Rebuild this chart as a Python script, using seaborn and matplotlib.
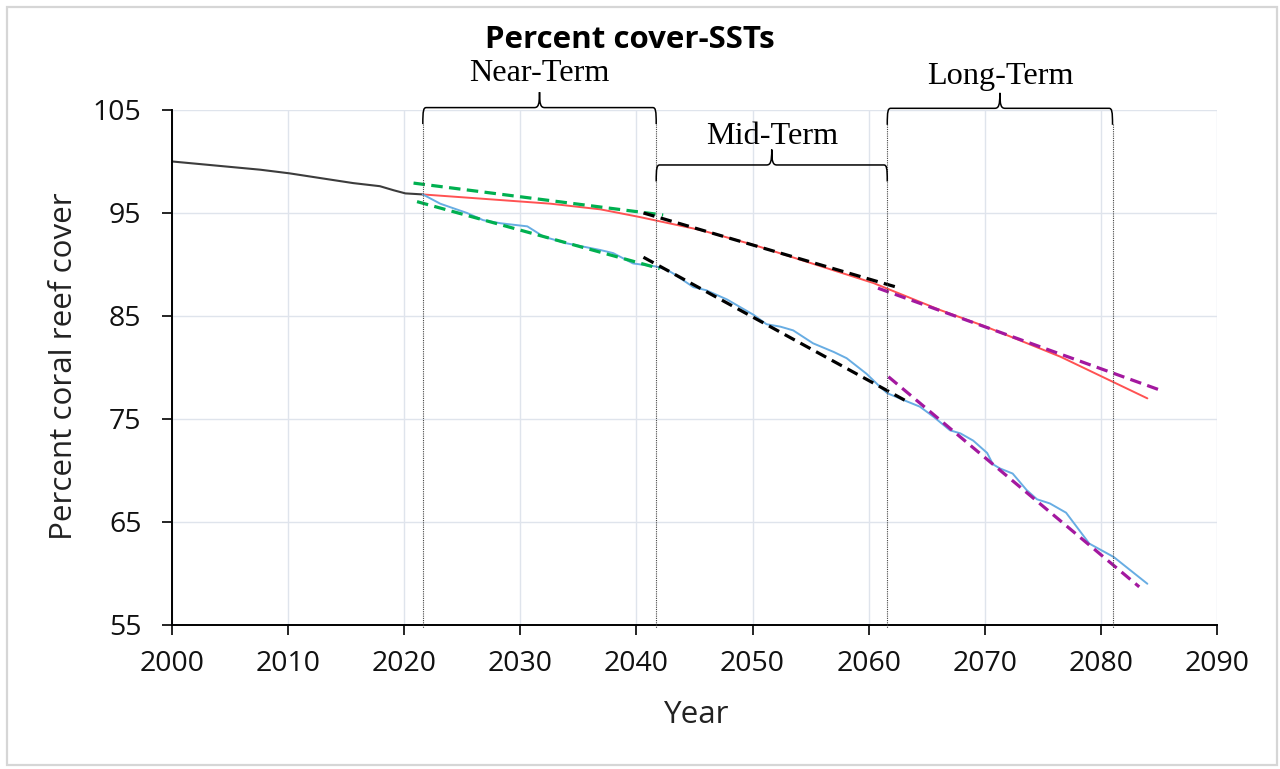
import matplotlib
matplotlib.use("Agg")
import matplotlib.pyplot as plt
from matplotlib.path import Path
from matplotlib.patches import PathPatch, Rectangle
import numpy as np
import pandas as pd
import seaborn as sns

# ---- data -------------------------------------------------------------
hist_years = [2000, 2007.6, 2010.1, 2012.7, 2015.6, 2017.9, 2019.1, 2020.1, 2021.6]
hist_cover = [100.0, 99.2, 98.85, 98.4, 97.9, 97.6, 97.2, 96.9, 96.8]

ssp_low_years = [2021.6, 2026.5, 2032.6, 2036.9, 2040.3, 2045.5, 2050.1,
                 2060.4, 2066.1, 2070.0, 2076.5, 2084.0]
ssp_low_cover = [96.8, 96.4, 95.9, 95.35, 94.6, 93.35, 91.9,
                 88.2, 85.6, 84.0, 81.05, 77.0]

ssp_high_years = [2021.6, 2023.1, 2025.4, 2026.8, 2028.3, 2030.6, 2032.0, 2034.0,
                  2036.9, 2038.0, 2039.7, 2041.7, 2042.6, 2043.2, 2044.9, 2046.0,
                  2047.8, 2050.1, 2051.2, 2052.4, 2053.5, 2055.2, 2057.0, 2058.1,
                  2059.8, 2061.0, 2061.6, 2063.3, 2064.4, 2065.6, 2067.0, 2067.9,
                  2069.0, 2070.2, 2070.7, 2071.3, 2072.4, 2073.6, 2074.5, 2075.6,
                  2077.0, 2079.0, 2081.1, 2084.0]
ssp_high_cover = [96.8, 95.9, 95.0, 94.3, 94.0, 93.7, 92.7, 92.05,
                  91.4, 91.1, 90.1, 89.8, 89.5, 89.1, 87.8, 87.5,
                  86.6, 85.1, 84.2, 83.96, 83.6, 82.35, 81.5, 80.9,
                  79.4, 78.1, 77.5, 76.7, 76.2, 75.2, 73.9, 73.6,
                  72.9, 71.7, 70.6, 70.2, 69.7, 68.1, 67.2, 66.8,
                  65.9, 62.9, 61.6, 59.0]

# linear trends per period: (start year, start cover, end year, end cover)
near_low_trend = [2020.8, 97.9, 2042.3, 94.8]
near_high_trend = [2021.1, 96.1, 2042.0, 89.6]
mid_low_trend = [2040.6, 95.0, 2062.4, 87.8]
mid_high_trend = [2040.6, 90.7, 2063.3, 76.7]
long_low_trend = [2060.8, 87.7, 2085.1, 77.8]
long_high_trend = [2061.7, 79.1, 2083.3, 58.7]

period_names = ["Near-Term", "Mid-Term", "Long-Term"]
period_bounds = [(2021.6, 2041.7), (2041.7, 2061.6), (2061.6, 2081.0)]

x_ticks = list(range(2000, 2091, 10))
y_ticks = list(range(55, 106, 10))

# ---- style ------------------------------------------------------------
sns.set_theme(style="white")
plt.rcParams["font.family"] = ["Open Sans", "DejaVu Sans"]

fig = plt.figure(figsize=(12.8, 7.69), dpi=100)
ax = fig.add_axes([0.1344, 0.1873, 0.8164, 0.6697])

fig.patches.append(Rectangle((0.0055, 0.005), 0.992, 0.986, transform=fig.transFigure,
                             fill=False, ec="#d6d6d6", lw=1.6, zorder=0))

ax.set_xlim(2000, 2090)
ax.set_ylim(55, 105)
ax.set_xticks(x_ticks)
ax.set_yticks(y_ticks)
ax.grid(True, color="#dfe4ec", lw=1.0)
ax.set_axisbelow(True)
for side in ("top", "right"):
    ax.spines[side].set_visible(False)
for side in ("left", "bottom"):
    ax.spines[side].set_color("black")
    ax.spines[side].set_linewidth(1.4)
ax.tick_params(axis="both", direction="out", length=7, width=1.2, color="black",
               labelsize=20.5, labelcolor="#111111", left=True, bottom=True)
ax.tick_params(axis="y", pad=15)
ax.tick_params(axis="x", pad=11)

# ---- series -----------------------------------------------------------
sns.lineplot(x=hist_years, y=hist_cover, ax=ax, color="#3c3c3c", lw=1.5, sort=False)
sns.lineplot(x=ssp_low_years, y=ssp_low_cover, ax=ax, color="#ff5252", lw=1.4, sort=False)
sns.lineplot(x=ssp_high_years, y=ssp_high_cover, ax=ax, color="#68ade3", lw=1.4, sort=False)

dash = (0, (3.6, 2.0))
for trend, col in [(near_low_trend, "#00b050"), (near_high_trend, "#00b050"),
                   (mid_low_trend, "black"), (mid_high_trend, "black"),
                   (long_low_trend, "#a3189f"), (long_high_trend, "#a3189f")]:
    sns.lineplot(x=[trend[0], trend[2]], y=[trend[1], trend[3]], ax=ax,
                 color=col, lw=2.3, linestyle=dash, sort=False)


# ---- period braces ----------------------------------------------------
def draw_brace(ax, x0, x1, y, end_drop, tip_rise):
    xm = 0.5 * (x0 + x1)
    rx, ry = 0.3, 0.3
    tw = 0.45
    verts = [
        (x0, y - end_drop),
        (x0, y - ry), (x0 + 0.05, y), (x0 + rx, y),
        (xm - tw, y),
        (xm - 0.1, y), (xm, y + 0.3), (xm, y + tip_rise),
        (xm, y + 0.3), (xm + 0.1, y), (xm + tw, y),
        (x1 - rx, y),
        (x1 - 0.05, y), (x1, y - ry), (x1, y - end_drop),
    ]
    codes = [Path.MOVETO,
             Path.CURVE4, Path.CURVE4, Path.CURVE4,
             Path.LINETO,
             Path.CURVE4, Path.CURVE4, Path.CURVE4,
             Path.CURVE4, Path.CURVE4, Path.CURVE4,
             Path.LINETO,
             Path.CURVE4, Path.CURVE4, Path.CURVE4]
    ax.add_patch(PathPatch(Path(verts, codes), fill=False, ec="black", lw=1.1,
                           clip_on=False, zorder=5))


brace_levels = [105.23, 99.66, 105.16]
label_levels = [107.8, 101.67, 107.5]
for name, (x0, x1), by, ty in zip(period_names, period_bounds, brace_levels, label_levels):
    draw_brace(ax, x0, x1, by, 1.6, 1.5)
    ax.text(0.5 * (x0 + x1), ty, name, ha="center", va="baseline",
            fontsize=23.2, family="Liberation Serif", color="black", clip_on=False)

# dotted period boundaries
for xb in [2021.6, 2041.7, 2061.6, 2081.0]:
    ax.plot([xb, xb], [103.6, 54.7], color="#444444", lw=0.8,
            linestyle=(0, (1, 1)), clip_on=False, zorder=4)

# ---- labels -----------------------------------------------------------
ax.set_title("Percent cover-SSTs", x=0.438, y=1.12, pad=0, fontsize=22.5,
             fontweight="bold", color="black")
ax.set_xlabel("Year", fontsize=22.6, color="#222222")
ax.set_ylabel("Percent coral reef cover", fontsize=22.6, color="#222222")
ax.xaxis.set_label_coords(0.502, -0.175)
ax.xaxis.label.set_verticalalignment("center")
ax.yaxis.set_label_coords(-0.103, 0.503)
ax.yaxis.label.set_verticalalignment("center")

fig.savefig("out.png", dpi=100, facecolor="white")
